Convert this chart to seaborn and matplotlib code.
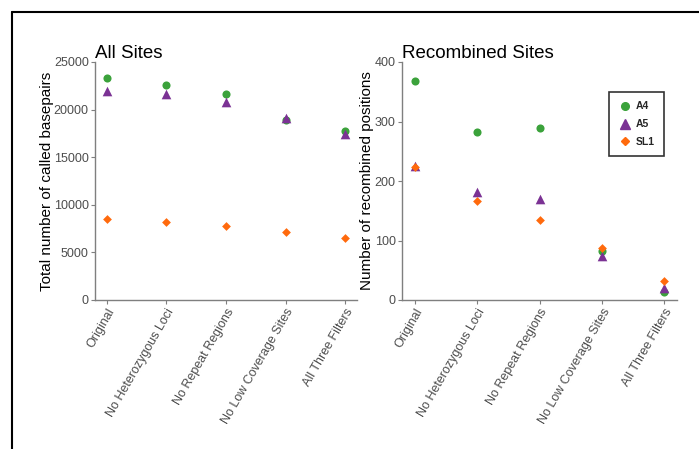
import numpy as np
import pandas as pd
import matplotlib
matplotlib.use("Agg")
import matplotlib.pyplot as plt
from matplotlib.lines import Line2D
import seaborn as sns


# ============================================================
# DATA
# ============================================================

FILTERS = ["Original", "No Heterozygous Loci", "No Repeat Regions",
           "No Low Coverage Sites", "All Three Filters"]
STRAINS = ["A4", "A5", "SL1"]

all_a4  = [23300, 22600, 21600, 18950, 17800]
all_a5  = [21950, 21600, 20750, 19100, 17400]
all_sl1 = [8500, 8200, 7800, 7100, 6540]

rec_a4  = [368, 282, 289, 82, 14]
rec_a5  = [225, 182, 170, 74, 21]
rec_sl1 = [223, 167, 134, 87, 32]

COLORS  = {"A4": "#3ba23b", "A5": "#7b3294", "SL1": "#ff6a0d"}
MARKERS = {"A4": "o", "A5": "^", "SL1": "D"}
SIZES   = {"A4": 34, "A5": 48, "SL1": 20}


def long_df(a4, a5, sl1):
    rows = []
    for strain, vals in zip(STRAINS, [a4, a5, sl1]):
        for f, v in zip(FILTERS, vals):
            rows.append({"filter": f, "strain": strain, "value": v})
    return pd.DataFrame(rows)


all_df = long_df(all_a4, all_a5, all_sl1)
rec_df = long_df(rec_a4, rec_a5, rec_sl1)


# ============================================================
# PLOT
# ============================================================

sns.set_style("white")
plt.rcParams["font.family"] = ["Liberation Sans", "DejaVu Sans"]

fig = plt.figure(figsize=(6.99, 4.49), dpi=100)
ax1 = fig.add_axes([95/699, 1-300/449, 262/699, 238/449])
ax2 = fig.add_axes([402/699, 1-300/449, 275/699, 238/449])

GREY = "#4d4d4d"


def draw(ax, df, ylim, yticks, ylabel, title, label_x):
    for strain in STRAINS:
        sub = df[df["strain"] == strain].copy()
        sub["x"] = sub["filter"].map({f: i for i, f in enumerate(FILTERS)})
        sns.scatterplot(data=sub, x="x", y="value", ax=ax,
                        color=COLORS[strain], marker=MARKERS[strain],
                        s=SIZES[strain], linewidth=0, label=strain,
                        legend=False, zorder=3)
    ax.set_xlim(-0.2, 4.2)
    ax.set_ylim(*ylim)
    ax.set_yticks(yticks)
    ax.set_xticks(range(len(FILTERS)))
    ax.set_xticklabels(FILTERS, rotation=60, ha="right",
                       rotation_mode="anchor", fontsize=9, color=GREY)
    ax.tick_params(axis="y", labelsize=9, labelcolor=GREY)
    ax.tick_params(axis="both", direction="out", length=3, width=0.8,
                   color="#7f7f7f", left=True, bottom=True, pad=1.5)
    for side in ["top", "right"]:
        ax.spines[side].set_visible(False)
    for side in ["left", "bottom"]:
        ax.spines[side].set_color("#7f7f7f")
        ax.spines[side].set_linewidth(1.0)
    ax.set_xlabel("")
    ax.set_ylabel(ylabel, fontsize=11, color="black")
    ax.yaxis.set_label_coords(label_x, 0.5)
    ax.set_title(title, loc="left", fontsize=13.5, pad=3, color="black")


draw(ax1, all_df, (0, 25000), [0, 5000, 10000, 15000, 20000, 25000],
     "Total number of called basepairs", "All Sites", -0.156)
draw(ax2, rec_df, (0, 400), [0, 100, 200, 300, 400],
     "Number of recombined positions", "Recombined Sites", -0.1)

handles = [Line2D([], [], linestyle="none", marker=MARKERS[s],
                  color=COLORS[s],
                  markersize={"A4": 5.5, "A5": 6.5, "SL1": 4}[s])
           for s in STRAINS]
leg = ax2.legend(handles, STRAINS, loc="upper right",
                 bbox_to_anchor=(0.953, 0.874), frameon=True, fancybox=False,
                 prop={"weight": "bold", "size": 7.5}, handletextpad=0.4,
                 borderpad=0.9, labelspacing=0.75, handlelength=1.3,
                 borderaxespad=0)
leg.get_frame().set_edgecolor("black")
leg.get_frame().set_linewidth(1.2)

# outer frame (top and left edges)
fig.add_artist(Line2D([12/699, 1], [1-12/449, 1-12/449], color="black",
                      linewidth=1.5, transform=fig.transFigure))
fig.add_artist(Line2D([12/699, 12/699], [0, 1-12/449], color="black",
                      linewidth=1.5, transform=fig.transFigure))

fig.savefig("out.png", dpi=100)
